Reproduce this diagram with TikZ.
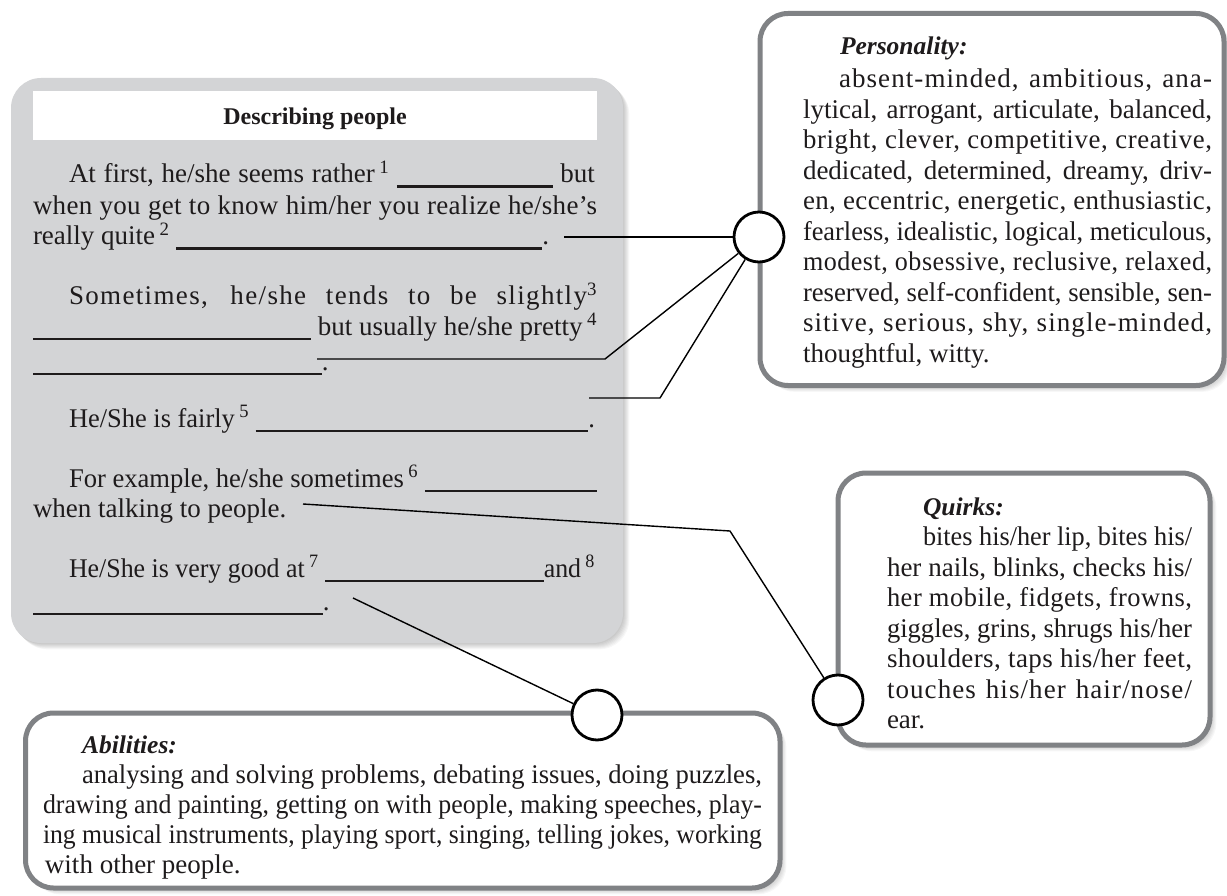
\documentclass[tikz,border=0pt]{standalone}
\usepackage{fontspec}
\setmainfont{Liberation Serif}
\usepackage{graphicx}
\newsavebox\jlbox
\newcommand\jl[2]{\sbox\jlbox{#2}\ifdim\wd\jlbox>#1\relax\resizebox{#1}{\height}{\usebox\jlbox}\else\makebox[#1][s]{#2}\fi}
\newcommand\blank[1]{\rule[-5pt]{#1pt}{2.5pt}}
\newcommand\sups[1]{\,\textsuperscript{#1}}
\newcommand\spaced[1]{{\addfontfeature{LetterSpace=#1}}}
\newcommand\softshadow[5]{\foreach \sh in {1,...,7}{\fill[black,opacity=0.03,rounded corners=#5pt] (#1+\sh*0.9,#2+\sh*0.9) rectangle (#3+\sh*0.9,#4+\sh*0.9);}}
\definecolor{panelgray}{RGB}{211,212,214}
\definecolor{bordergray}{RGB}{128,130,133}
\definecolor{ink}{RGB}{30,27,28}
\begin{document}
\begin{tikzpicture}[x=1pt,y=-1pt,line join=round,
  txt/.style={anchor=base west,inner sep=0pt,outer sep=0pt,text=ink,font=\fontsize{27}{30}\selectfont},
  head/.style={txt,font=\fontsize{25.5}{30}\selectfont\bfseries\itshape},
  panel/.style={draw=bordergray,line width=5pt,fill=white,rounded corners=28pt},
  hub/.style={circle,draw=black,line width=2.8pt,fill=white,minimum size=50pt,inner sep=0pt},
  link/.style={draw=black,line width=1.4pt}]
\useasboundingbox (0,0) rectangle (1227,896);
\fill[white] (0,0) rectangle (1227,896);

% grey worksheet panel
\softshadow{11}{78}{623}{643}{30}
\fill[panelgray,rounded corners=30pt] (11,78) rectangle (623,643);
\node[fill=white,minimum width=564pt,minimum height=49pt,anchor=north west,inner sep=0pt] (titlebar) at (33,91) {};
\node[anchor=base,inner sep=0pt,text=ink,font=\fontsize{24}{28}\selectfont\bfseries] (title) at (315,125) {Describing people};

% word panels
\softshadow{760}{13.5}{1224}{385.5}{28}
\softshadow{838}{473}{1210}{745}{28}
\softshadow{25.5}{713}{780}{888}{28}
\draw[panel] (760,13.5) rectangle (1224,385.5);
\draw[panel] (838,473) rectangle (1210,745);
\draw[panel] (25.5,713) rectangle (780,888);

% hubs
\node[hub] (pc) at (759,237) {};
\node[hub] (qc) at (838,700) {};
\node[hub] (ac) at (597,715) {};

% connectors
\coordinate (c1s) at (564,237);
\coordinate (c2s) at (317,359);
\coordinate (c2m) at (605,359);
\coordinate (c3s) at (589,398);
\coordinate (c3m) at (660,398);
\coordinate (c4s) at (303,504);
\coordinate (c4m) at (730,531);
\coordinate (c5s) at (353,598);
\draw[link] (c1s) -- (pc);
\draw[link] (c2s) -- (c2m) -- (pc);
\draw[link] (c3s) -- (c3m) -- (pc);
\draw[link] (c4s) -- (c4m) -- (qc);
\draw[link] (c5s) -- (ac);

% worksheet text
\node[txt] (a1) at (69,183) {\jl{526pt}{At first, he/she seems rather\sups{1} \blank{156} but}};
\node[txt] (a2) at (33,215) {\jl{564pt}{\addfontfeature{LetterSpace=1}when you get to know him/her you realize he/she’s}};
\node[txt] (a3) at (33,245) {really quite\sups{2} \blank{366}.};
\node[txt] (a4) at (69,305) {\jl{528pt}{\addfontfeature{LetterSpace=5}Sometimes, he/she tends to be slightly\textsuperscript{3}}};
\node[txt] (a5) at (33,335) {\jl{564pt}{\blank{278} but usually he/she pretty\sups{4}}};
\node[txt] (a6) at (33,370) {\blank{289}.};
\node[txt] (a7) at (69,427) {\jl{526pt}{He/She is fairly\sups{5} \blank{340}.}};
\node[txt] (a8) at (69,487) {\jl{528pt}{For example, he/she sometimes\sups{6} \blank{175}}};
\node[txt] (a9) at (33,517) {when talking to people.};
\node[txt] (a10) at (69,577) {\jl{526pt}{He/She is very good at\sups{7} \blank{228}and\sups{8}}};
\node[txt] (a11) at (33,610) {\blank{290}.};

% personality
\node[head] (ph) at (840,55) {Personality:};
\node[txt] (p1) at (839,88) {\jl{373pt}{\addfontfeature{LetterSpace=4}absent-minded, ambitious, ana-}};
\node[txt] (p2) at (803,118.4) {\jl{409pt}{lytical, arrogant, articulate, balanced,}};
\node[txt] (p3) at (803,148.9) {\jl{409pt}{\addfontfeature{LetterSpace=2.5}bright, clever, competitive, creative,}};
\node[txt] (p4) at (803,179.3) {\jl{409pt}{dedicated, determined, dreamy, driv-}};
\node[txt] (p5) at (803,209.8) {\jl{409pt}{\addfontfeature{LetterSpace=1.5}en, eccentric, energetic, enthusiastic,}};
\node[txt] (p6) at (803,240.2) {\jl{409pt}{fearless, idealistic, logical, meticulous,}};
\node[txt] (p7) at (803,270.7) {\jl{409pt}{\addfontfeature{LetterSpace=2}modest, obsessive, reclusive, relaxed,}};
\node[txt] (p8) at (803,301.1) {\jl{409pt}{reserved, self-confident, sensible, sen-}};
\node[txt] (p9) at (803,331.6) {\jl{409pt}{\addfontfeature{LetterSpace=4}sitive, serious, shy, single-minded,}};
\node[txt] (p10) at (803,362) {thoughtful, witty.};

% quirks
\node[head] (qh) at (923,515) {Quirks:};
\node[txt] (q1) at (923,545.5) {\jl{269pt}{bites his/her lip, bites his/}};
\node[txt] (q2) at (887,576) {\jl{305pt}{her nails, blinks, checks his/}};
\node[txt] (q3) at (887,606.5) {\jl{305pt}{\addfontfeature{LetterSpace=2}her mobile, fidgets, frowns,}};
\node[txt] (q4) at (887,637) {\jl{305pt}{giggles, grins, shrugs his/her}};
\node[txt] (q5) at (887,667.5) {\jl{305pt}{\addfontfeature{LetterSpace=1.5}shoulders, taps his/her feet,}};
\node[txt] (q6) at (887,698) {\jl{305pt}{\addfontfeature{LetterSpace=4}touches his/her hair/nose/}};
\node[txt] (q7) at (887,728.5) {ear.};

% abilities
\node[head] (bh) at (82,753) {Abilities:};
\node[txt] (b1) at (82,783) {\jl{680pt}{analysing and solving problems, debating issues, doing puzzles,}};
\node[txt] (b2) at (43,813) {\jl{719pt}{drawing and painting, getting on with people, making speeches, play-}};
\node[txt] (b3) at (43,843) {\jl{719pt}{ing musical instruments, playing sport, singing, telling jokes, working}};
\node[txt] (b4) at (45,873) {with other people.};
\end{tikzpicture}
\end{document}
